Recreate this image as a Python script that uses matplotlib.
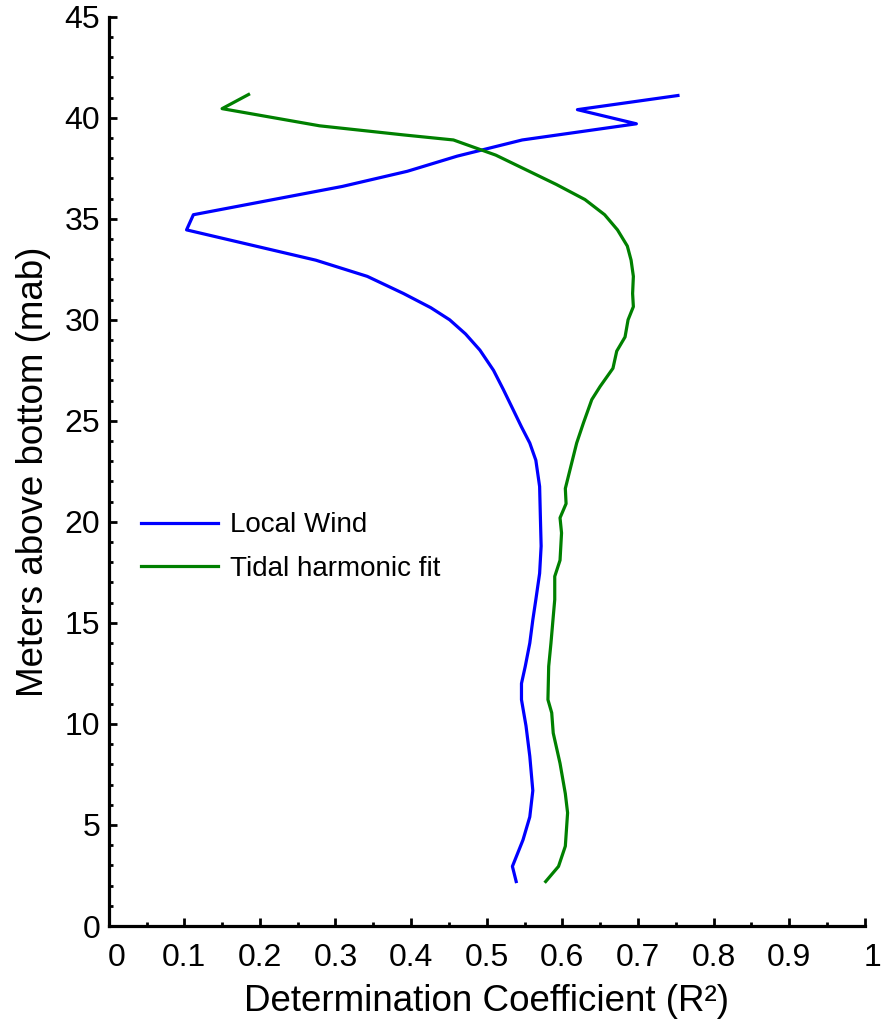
import matplotlib
matplotlib.use("Agg")
import matplotlib.pyplot as plt
from matplotlib.ticker import MultipleLocator, FixedLocator
from matplotlib.transforms import ScaledTranslation

# ---- data ----
wind_height = [2.2, 2.95, 4.26, 5.4, 6.7, 8.4, 9.9, 11.2, 12.0, 12.85, 14.0, 15.15,
               16.15, 17.45, 18.8, 20.25, 21.75, 23.05, 23.9, 24.7, 25.55, 26.55,
               27.5, 28.5, 29.3, 30.0, 30.6, 31.3, 32.15, 32.95, 34.45, 35.2, 36.6,
               37.35, 38.1, 38.9, 39.7, 40.4, 41.1]
wind_r2 = [0.539, 0.534, 0.548, 0.557, 0.561, 0.557, 0.552, 0.546, 0.546, 0.551,
           0.557, 0.561, 0.565, 0.570, 0.572, 0.571, 0.570, 0.565, 0.557, 0.546,
           0.535, 0.522, 0.509, 0.491, 0.472, 0.451, 0.426, 0.390, 0.342, 0.274,
           0.103, 0.112, 0.309, 0.395, 0.461, 0.547, 0.698, 0.620, 0.753]

tide_height = [2.2, 2.95, 3.95, 5.6, 6.55, 8.05, 9.55, 10.55, 11.2, 12.85, 14.0,
               15.3, 16.15, 17.3, 18.1, 19.45, 20.2, 20.9, 21.65, 22.55, 23.9,
               24.9, 26.05, 26.7, 27.6, 28.45, 29.15, 30.0, 30.65, 31.3, 32.15,
               32.95, 33.65, 34.45, 35.2, 35.95, 36.7, 38.15, 38.9, 39.15, 39.6,
               40.45, 41.15]
tide_r2 = [0.578, 0.595, 0.604, 0.607, 0.604, 0.597, 0.588, 0.586, 0.581, 0.582,
           0.585, 0.588, 0.590, 0.590, 0.597, 0.599, 0.597, 0.605, 0.604, 0.610,
           0.619, 0.628, 0.639, 0.650, 0.667, 0.672, 0.683, 0.687, 0.694, 0.693,
           0.694, 0.691, 0.686, 0.673, 0.656, 0.630, 0.592, 0.512, 0.456, 0.390,
           0.279, 0.150, 0.185]

x_ticks = [0, 0.1, 0.2, 0.3, 0.4, 0.5, 0.6, 0.7, 0.8, 0.9, 1.0]
x_ticklabels = ["0", "0.1", "0.2", "0.3", "0.4", "0.5", "0.6", "0.7", "0.8", "0.9", "1"]
y_ticks = [0, 5, 10, 15, 20, 25, 30, 35, 40, 45]
series_labels = ["Local Wind", "Tidal harmonic fit"]
series_colors = ["#0000ff", "#008000"]

plt.rcParams['font.family'] = ['Liberation Sans', 'DejaVu Sans']

fig = plt.figure(figsize=(8.82, 10.30), dpi=100)
ax = fig.add_axes([108.7 / 882, 104 / 1030, 756 / 882, 909.3 / 1030])

ax.plot(wind_r2, wind_height, color=series_colors[0], lw=2.3, label=series_labels[0])
ax.plot(tide_r2, tide_height, color=series_colors[1], lw=2.3, label=series_labels[1])

ax.set_xlim(0, 1)
ax.set_ylim(0, 45)

for s in ['top', 'right']:
    ax.spines[s].set_visible(False)
for s in ['left', 'bottom']:
    ax.spines[s].set_linewidth(2.3)

ax.xaxis.set_major_locator(FixedLocator(x_ticks))
ax.set_xticklabels(x_ticklabels)
ax.xaxis.set_minor_locator(MultipleLocator(0.05))
ax.yaxis.set_major_locator(FixedLocator(y_ticks))
ax.yaxis.set_minor_locator(MultipleLocator(1))

ax.tick_params(which='both', direction='in', width=2.0, colors='black')
ax.tick_params(which='major', length=6.0)
ax.tick_params(which='minor', length=3.0)
ax.tick_params(axis='x', which='major', labelsize=23, pad=12)
ax.tick_params(axis='y', which='major', labelsize=23, pad=6)
ax.tick_params(top=False, right=False, which='both')

# single-character end labels sit slightly to the right in the reference
labels = ax.get_xticklabels()
for lab in labels:
    if lab.get_text() in ("0", "1"):
        lab.set_transform(lab.get_transform() + ScaledTranslation(8 / 100, 0, fig.dpi_scale_trans))

ax.set_xlabel("Determination Coefficient (R²)", fontsize=26.5, labelpad=8)
ax.set_ylabel("Meters above bottom (mab)", fontsize=26.5, labelpad=10)

ax.legend(loc='center left', bbox_to_anchor=(0.0423, 0.4169), frameon=False,
          fontsize=20, handlelength=2.8, handletextpad=0.43, labelspacing=0.62,
          borderpad=0, borderaxespad=0)

fig.savefig("out.png", dpi=100, facecolor='white')
